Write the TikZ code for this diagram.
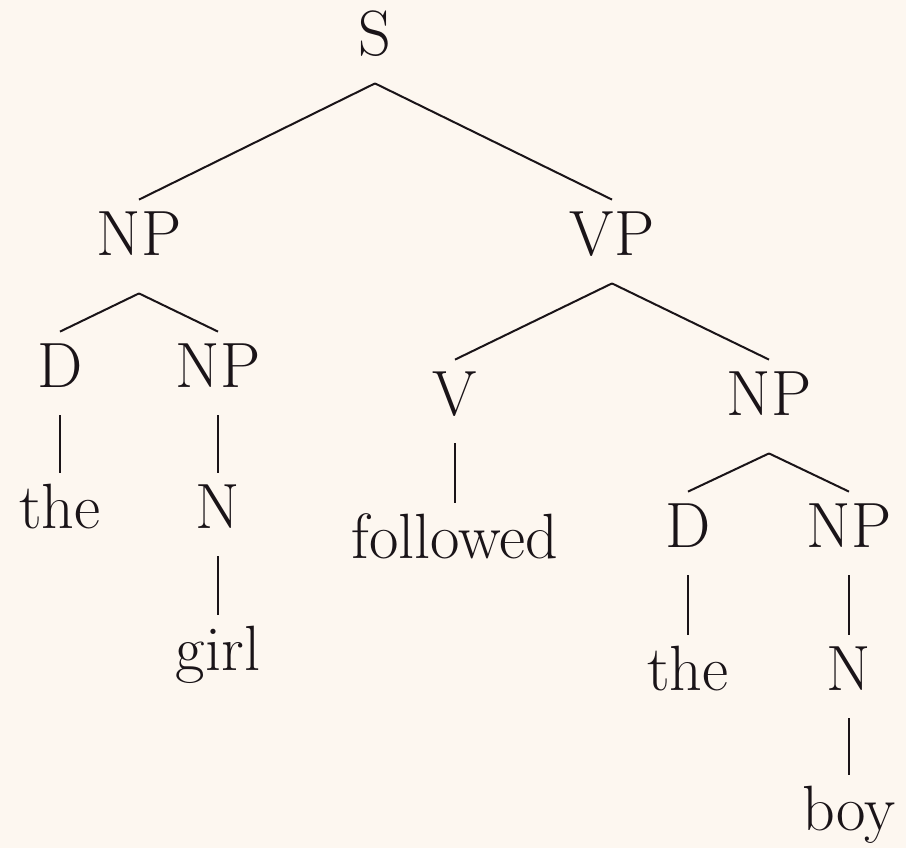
\documentclass[tikz,border=0pt]{standalone}
\usepackage{tikz}
\usetikzlibrary{positioning}

\definecolor{paper}{RGB}{253,247,240}
\definecolor{ink}{RGB}{26,20,24}

\begin{document}
\begin{tikzpicture}[
    x=0.5pt, y=-0.5pt,
    % one style for every label; fixed height/depth so the edges get even gaps
    cat/.style={anchor=base, inner sep=0pt, text height=27.5pt, text depth=14pt, text=ink, font=\fontsize{32}{38}\selectfont},
    branch/.style={draw=ink, line width=1pt}
  ]
    %--- Canvas ---
    \fill[paper] (0,0) rectangle (906,848);
    \useasboundingbox (0,0) rectangle (906,848);

    %--- Nodes (baseline positions) ---
    \node[cat] (s)    at (375,55)  {S};
    \node[cat] (np)   at (139,255) {NP};
    \node[cat] (vp)   at (612,255) {VP};
    % subject
    \node[cat] (d)    at (60,387)  {D};
    \node[cat] (npn)  at (218,387) {NP};
    \node[cat] (the)  at (60,528)  {the};
    \node[cat] (n)    at (218,528) {N};
    \node[cat] (girl) at (218,670) {girl};
    % predicate
    \node[cat] (v)    at (455,415) {V};
    \node[cat] (obj)  at (769,415) {NP};
    \node[cat] (fol)  at (455,558) {followed};
    \node[cat] (od)   at (688,547) {D};
    \node[cat] (onp)  at (849,547) {NP};
    \node[cat] (othe) at (688,690) {the};
    \node[cat] (on)   at (849,690) {N};
    \node[cat] (boy)  at (849,830) {boy};

    %--- Edges: parent.south to child.north
    \draw[branch] (s.south) -- (np.north);
    \draw[branch] (s.south) -- (vp.north);

    \draw[branch] ([yshift=-5pt]np.south) -- (d.north);
    \draw[branch] ([yshift=-5pt]np.south) -- (npn.north);
    \draw[branch] (d.south) -- (the.north);
    \draw[branch] (npn.south) -- (n.north);
    \draw[branch] (n.south) -- (girl.north);

    \draw[branch] (vp.south) -- (v.north);
    \draw[branch] (vp.south) -- (obj.north);
    \draw[branch] (v.south) -- (fol.north);
    \draw[branch] ([yshift=-5pt]obj.south) -- (od.north);
    \draw[branch] ([yshift=-5pt]obj.south) -- (onp.north);
    \draw[branch] (od.south) -- (othe.north);
    \draw[branch] (onp.south) -- (on.north);
    \draw[branch] (on.south) -- (boy.north);
  \end{tikzpicture}
\end{document}
